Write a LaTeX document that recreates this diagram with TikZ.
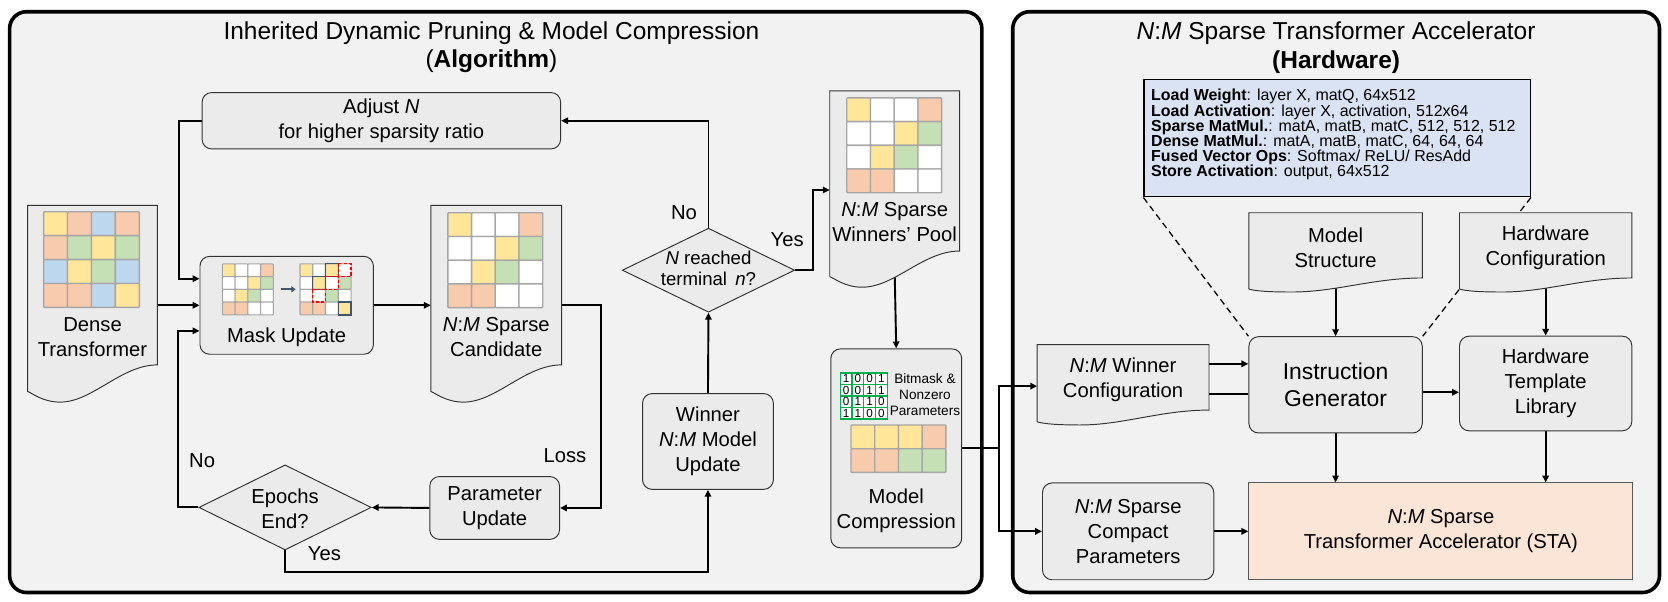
\documentclass[tikz,border=0pt]{standalone}
\usepackage{fontspec}
\setmainfont{Liberation Sans}
\usetikzlibrary{shapes.geometric,arrows.meta,calc}
\pgfdeclarelayer{back}
\pgfdeclarelayer{wires}
\pgfsetlayers{back,wires,main}
\definecolor{cy}{HTML}{FFE699}
\definecolor{cp}{HTML}{F8CBAD}
\definecolor{cb}{HTML}{BDD7EE}
\definecolor{cg}{HTML}{C5E0B4}
\definecolor{cw}{HTML}{FFFFFF}
\definecolor{panelfill}{HTML}{F2F2F2}
\definecolor{boxfill}{HTML}{EBEBEB}
\definecolor{boxline}{HTML}{333333}
\definecolor{instrfill}{HTML}{DAE3F3}
\definecolor{stafill}{HTML}{FBE5D6}
\definecolor{stline}{HTML}{595959}
\definecolor{cellline}{HTML}{A6A6A6}
\definecolor{slate}{HTML}{44546A}
\definecolor{bitgreen}{HTML}{00B050}
\newcommand{\fA}{\fontsize{19}{23.5}\selectfont}
\newcommand{\fB}{\fontsize{21.5}{25.5}\selectfont}
\newcommand{\fT}{\fontsize{23}{27}\selectfont}
\newcommand{\fN}{\fontsize{17.5}{19.5}\selectfont}
\newcommand{\fS}{\fontsize{12.8}{15}\selectfont}
\newcommand{\fI}{\fontsize{15}{14.2}\selectfont}
\newcommand{\NM}{\textit{N}:\textit{M}}
\newcommand{\mygrid}[5]{%
  \foreach \rowlist [count=\rr from 0] in {#5} {%
    \foreach \cl [count=\kk from 0] in \rowlist {%
      \filldraw[fill=\cl, draw=cellline, line width=#4pt, rounded corners=0.8pt]
        ({#1+\kk*#3},{#2+\rr*#3}) rectangle ++(#3,#3);
    }%
  }%
}
\newcommand{\docshape}[6]{%
  \filldraw[docst] (#1,#2) -- ({#1+#3},#2) -- ({#1+#3},#6)
    .. controls ({#1+0.72*#3},#6) and ({#1+0.5*#3},#5) .. ({#1+0.25*#3},#5)
    .. controls ({#1+0.12*#3},#5) and ({#1+0.04*#3},{#4+2}) .. (#1,#4) -- cycle;
}
\begin{document}
\begin{tikzpicture}[x=1pt,y=-1pt,
  panel/.style={fill=panelfill, draw=black, line width=3.4pt, rounded corners=16pt},
  rbox/.style={draw=boxline, fill=boxfill, line width=0.9pt, rounded corners=9pt, inner sep=0, align=center, font=\fA},
  ghost/.style={inner sep=0, outer sep=0, draw=none},
  diam/.style={diamond, draw=boxline, fill=boxfill, line width=0.9pt, inner sep=0},
  docst/.style={draw=boxline, fill=boxfill, line width=0.9pt},
  conn/.style={line width=1.8pt, -{Triangle[length=6.5pt,width=6pt]}},
  wire/.style={line width=1.8pt},
  txt/.style={inner sep=0, align=center, font=\fA},
  dashln/.style={line width=1.2pt, dash pattern=on 6pt off 4pt}]
\useasboundingbox (0,0) rectangle (1568,565);

\begin{pgfonlayer}{back}
\filldraw[panel] (9,11) rectangle (923,557);
\filldraw[panel] (952,11) rectangle (1560,557);
\end{pgfonlayer}

% titles
\node[txt, font=\fT] (ltitle) at (462,44.5) {Inherited Dynamic Pruning \& Model Compression\\(\textbf{Algorithm})};
\node[txt, font=\fT] (rtitle) at (1256,44.5) {\NM{} Sparse Transformer Accelerator\\\textbf{(Hardware)}};

% ---------- left panel ----------
\node[rbox, minimum width=337, minimum height=53] (adjust) at (358.5,113.5) {Adjust \textit{N}\\for higher sparsity ratio};

\docshape{26}{193}{122}{368}{378}{343}
\node[ghost, minimum width=122, minimum height=175] (dense) at (87,280.5) {};
\mygrid{41}{199}{22.5}{1.3}{{cy,cp,cb,cp},{cp,cg,cy,cg},{cb,cy,cg,cb},{cp,cp,cb,cy}}
\node[txt] (densetxt) at (87,317) {Dense\\Transformer};

\node[rbox, minimum width=163, minimum height=92] (mask) at (269.5,287) {};
\mygrid{209}{248}{12}{1}{{cy,cw,cw,cp},{cw,cw,cy,cg},{cw,cy,cg,cw},{cp,cp,cw,cw}}
\draw[slate, line width=2pt, -{Triangle[length=4pt,width=5.5pt]}] (264,272) -- (278,272);
\mygrid{282}{248}{12}{1}{{cy,cw,cy,cw},{cw,cy,cw,cg},{cw,cw,cg,cw},{cp,cp,cw,cy}}
\draw[slate, line width=1.2pt] (306,248) rectangle ++(12,12);
\draw[slate, line width=1.2pt] (294,260) rectangle ++(12,12);
\draw[slate, line width=1.2pt] (318,284) rectangle ++(12,12);
\draw[red, line width=1.2pt, dash pattern=on 3pt off 2pt] (318,248) rectangle ++(12,12);
\draw[red, line width=1.2pt, dash pattern=on 3pt off 2pt] (306,260) rectangle ++(12,12);
\draw[red, line width=1.2pt, dash pattern=on 3pt off 2pt] (294,272) rectangle ++(12,12);
\node[txt] (masktxt) at (269.5,317) {Mask Update};

\docshape{405}{193}{123}{368}{378}{343}
\node[ghost, minimum width=123, minimum height=175] (cand) at (466.5,280.5) {};
\mygrid{421}{200}{22.3}{1.3}{{cy,cw,cw,cp},{cw,cw,cy,cg},{cw,cy,cg,cw},{cp,cp,cw,cw}}
\node[txt] (candtxt) at (466.5,317) {\NM{} Sparse\\Candidate};

\node[rbox, minimum width=122, minimum height=59] (param) at (465,477.5) {Parameter\\Update};
\node[diam, minimum width=162, minimum height=80] (epochs) at (268,477) {};
\node[txt] (epochstxt) at (268,478.5) {Epochs\\End?};

\node[rbox, minimum width=123, minimum height=90] (winner) at (665.5,415) {Winner\\\NM{} Model\\Update};
\node[diam, minimum width=162, minimum height=79] (nreach) at (666,254) {};
\node[txt, font=\fN] (nreachtxt) at (666,252.5) {\textit{N} reached\\terminal\ \,\textit{n}?};

\docshape{780}{85.5}{122}{260}{270}{236}
\node[ghost, minimum width=122, minimum height=170] (pool) at (841,170) {};
\mygrid{796}{92}{22.3}{1.3}{{cy,cw,cw,cp},{cw,cw,cy,cg},{cw,cy,cg,cw},{cp,cp,cw,cw}}
\node[txt] (pooltxt) at (841,209) {\NM{} Sparse\\Winners’ Pool};

\node[rbox, minimum width=123, minimum height=187] (compress) at (842.5,421.5) {};
\foreach \rowd [count=\rr from 0] in {{1,0,0,1},{0,0,1,1},{0,1,1,0},{1,1,0,0}} {
  \foreach \dg [count=\kk from 0] in \rowd {
    \filldraw[fill=white, draw=bitgreen, line width=1.3pt] ({790+\kk*11},{350.5+\rr*10.8}) rectangle ++(11,10.8);
    \node[inner sep=0, font=\fontsize{11}{11}\selectfont] at ({795.5+\kk*11},{356+\rr*10.8}) {\dg};
  }
}
\node[txt, font=\fS] (bittxt) at (869.5,371) {Bitmask \&\\Nonzero\\Parameters};
\mygrid{800}{399.5}{22.3}{1.3}{{cy,cy,cy,cp},{cp,cp,cg,cg}}
\node[txt] (comptxt) at (842.5,480) {Model\\Compression};

\node[txt] (lno1) at (643,200) {No};
\node[txt] (lyes1) at (740,225) {Yes};
\node[txt] (lloss) at (531,428) {Loss};
\node[txt] (lno2) at (190,433) {No};
\node[txt] (lyes2) at (305,520) {Yes};

% ---------- right panel ----------
\node[draw=black, fill=instrfill, line width=1.3pt, minimum width=363, minimum height=110, inner sep=0] (instrbox) at (1257,130) {};
\node[anchor=west, inner sep=0, align=left, font=\fI] (instrtxt) at (1082,126.5) {%
\textbf{Load Weight}: layer X, matQ, 64x512\\
\textbf{Load Activation}: layer X, activation, 512x64\\
\textbf{Sparse MatMul.}: matA, matB, matC, 512, 512, 512\\
\textbf{Dense MatMul.}: matA, matB, matC, 64, 64, 64\\
\textbf{Fused Vector Ops}: Softmax/ ReLU/ ResAdd\\
\textbf{Store Activation}: output, 64x512};

\docshape{1174}{200}{163}{271.7}{274.5}{261.3}
\node[ghost, minimum width=163, minimum height=66] (mstruct) at (1255.5,233) {};
\node[txt] (mstructtxt) at (1255.5,233) {Model\\Structure};

\docshape{1372}{200}{162}{271.7}{274.5}{261.3}
\node[ghost, minimum width=162, minimum height=66] (hconf) at (1453,233) {};
\node[txt] (hconftxt) at (1453,233) {Hardware\\Configuration};

\docshape{975}{324}{161.5}{396.5}{399.5}{385.5}
\node[ghost, minimum width=161.5, minimum height=78] (wconf) at (1055.75,363) {};
\node[txt] (wconftxt) at (1055.75,357) {\NM{} Winner\\Configuration};

\node[rbox, minimum width=163, minimum height=90.5, font=\fB] (instr) at (1255.5,361.75) {Instruction\\Generator};
\node[rbox, minimum width=162, minimum height=89] (htl) at (1453,360.5) {Hardware\\Template\\Library};
\node[rbox, minimum width=161, minimum height=91] (compact) at (1060.5,499.5) {\NM{} Sparse\\Compact\\Parameters};
\node[draw=stline, fill=stafill, line width=1pt, minimum width=361, minimum height=91, inner sep=0, align=center, font=\fA] (sta) at (1354.5,499.5) {\NM{} Sparse\\Transformer Accelerator (STA)};

% ---------- connectors ----------
\begin{pgfonlayer}{wires}
\draw[conn] (adjust.west) -- ++(-21,0) |- ($(mask.west)+(0,-25)$);
\draw[conn] (dense.east |- mask.west) -- (mask.west);
\draw[conn] (epochs.west) -- ++(-19,0) |- ($(mask.west)+(0,24)$);
\draw[conn] (mask.east) -- (cand.west |- mask.east);
\draw[conn] (cand.east |- mask.east) -- ++(37,0) |- (param.east);
\draw[conn] (param.west) -- (epochs.east);
\draw[conn] (epochs.south) -- ++(0,20) -| (winner.south);
\draw[conn] (winner.north) -- (nreach.south);
\draw[conn] (nreach.north) |- (adjust.east);
\draw[conn] (nreach.east) -- ++(17,0) |- ($(pool.west)+(0,8.6)$);
\draw[conn] (pool.south) -- (compress.north);
\coordinate (split) at (939,421.5);
\draw[wire] (compress.east) -- (split);
\draw[conn] (split) |- (wconf.west);
\draw[conn] (split) |- (compact.west);
\draw[conn] ($(wconf.east)+(0,-21)$) -- ($(wconf.east -| instr.west)+(0,-21)$);
\draw[wire] ($(wconf.east)+(0,7)$) -- ($(wconf.east -| instr.west)+(0,7)$);
\draw[conn] ($(instr.east)+(0,7)$) -- ($(instr.east -| htl.west)+(0,7)$);
\draw[conn] (mstruct.south) -- (instr.north);
\draw[conn] (hconf.south) -- (htl.north);
\draw[conn] (instr.south) -- (instr.south |- sta.north);
\draw[conn] (htl.south) -- (htl.south |- sta.north);
\draw[conn] (compact.east) -- (sta.west);
\draw[dashln] (instrbox.south west) -- (instr.north west);
\draw[dashln] (instrbox.south east) -- (instr.north east);
\end{pgfonlayer}
\end{tikzpicture}
\end{document}
